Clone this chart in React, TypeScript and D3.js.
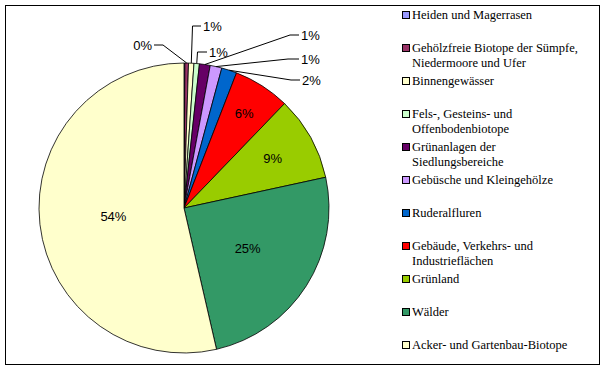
import React, { useEffect, useRef } from "react";
import { arc, pie, select, PieArcDatum } from "d3";

// Flächenanteile in Prozent, im Uhrzeigersinn ab 12 Uhr
const categories = [
  "Heiden und Magerrasen",
  "Gehölzfreie Biotope der Sümpfe,\nNiedermoore und Ufer",
  "Binnengewässer",
  "Fels-, Gesteins- und\nOffenbodenbiotope",
  "Grünanlagen der\nSiedlungsbereiche",
  "Gebüsche und Kleingehölze",
  "Ruderalfluren",
  "Gebäude, Verkehrs- und\nIndustrieflächen",
  "Grünland",
  "Wälder",
  "Acker- und Gartenbau-Biotope",
];
const values = [0.1, 0.4, 0.6, 0.6, 1.2, 1.3, 1.7, 6.3, 9.4, 24.8, 53.6];
const colors = [
  "#9999FF",
  "#993366",
  "#FFFFCC",
  "#CCFFCC",
  "#660066",
  "#CC99FF",
  "#0066CC",
  "#FF0000",
  "#99CC00",
  "#339966",
  "#FFFFCC",
];

// Layout der Beschriftungen (keine Daten)
// aussen: [Textx, Texty, Knickx, Knicky, anchor]
const outsideLabels: Record<number, [number, number, number, number, string]> = {
  1: [153, 45, 163, 45, "end"],
  2: [203, 26, 192.5, 26, "start"],
  3: [209, 52, 197.5, 52, "start"],
  4: [301, 35, 290, 35, "start"],
  5: [301, 59, 288, 59, "start"],
  6: [302, 80, 291, 80, "start"],
};
// innen: Abstand vom Mittelpunkt als Anteil des Radius
const insideLabels: Record<number, number> = { 7: 0.77, 8: 0.7, 9: 0.52, 10: 0.49 };

const W = 605;
const H = 370;
const cx = 184;
const cy = 208;
const radius = 145;

export default function App() {
  const ref = useRef<SVGSVGElement>(null);

  useEffect(() => {
    const svg = select(ref.current);
    svg.selectAll("*").remove();

    svg
      .append("rect")
      .attr("x", 5.5)
      .attr("y", 5.5)
      .attr("width", 594)
      .attr("height", 359)
      .attr("fill", "white")
      .attr("stroke", "black");

    const slices = pie<number>()
      .sort(null)
      .value((d) => d)(values);

    const arcGen = arc<PieArcDatum<number>>().innerRadius(0).outerRadius(radius);

    const g = svg.append("g").attr("transform", `translate(${cx},${cy})`);

    g.selectAll("path")
      .data(slices)
      .join("path")
      .attr("d", arcGen)
      .attr("fill", (d, i) => colors[i])
      .attr("stroke", "black")
      .attr("stroke-width", 0.8);

    const pct = (v: number) => `${Math.round(v)}%`;
    const font = "'Liberation Sans', Arial, sans-serif";

    slices.forEach((s, i) => {
      const mid = (s.startAngle + s.endAngle) / 2;
      if (insideLabels[i] !== undefined) {
        const r = radius * insideLabels[i];
        g.append("text")
          .attr("x", Math.sin(mid) * r)
          .attr("y", -Math.cos(mid) * r + 4.5)
          .attr("text-anchor", "middle")
          .attr("font-family", font)
          .attr("font-size", 13)
          .text(pct(s.data));
      }
      const o = outsideLabels[i];
      if (o) {
        const px = cx + Math.sin(mid) * radius;
        const py = cy - Math.cos(mid) * radius;
        const [tx, ty, kx, ky, anchor] = o;
        const ex = anchor === "end" ? tx + 1 : tx - 2;
        svg
          .append("polyline")
          .attr("points", `${px},${py} ${kx},${ky} ${ex},${ky}`)
          .attr("fill", "none")
          .attr("stroke", "black")
          .attr("stroke-width", 1);
        svg
          .append("text")
          .attr("x", anchor === "end" ? tx - 1 : tx)
          .attr("y", ty + 4.5)
          .attr("text-anchor", anchor)
          .attr("font-family", font)
          .attr("font-size", 13)
          .text(pct(s.data));
      }
    });

    // Legende
    const legend = svg.append("g");
    categories.forEach((name, i) => {
      const y = 15 + 33 * i;
      legend
        .append("rect")
        .attr("x", 402.5)
        .attr("y", y - 3.5)
        .attr("width", 7)
        .attr("height", 7)
        .attr("fill", colors[i])
        .attr("stroke", "black");
      name.split("\n").forEach((line, j) => {
        legend
          .append("text")
          .attr("x", 412)
          .attr("y", y + 4 + j * 15)
          .attr("font-family", "'Liberation Serif', 'Times New Roman', serif")
          .attr("font-size", 12.5)
          .text(line);
      });
    });
  }, []);

  return (
    <div style={{ position: "absolute", left: 0, top: 0, padding: 0 }}>
      <svg ref={ref} width={W} height={H} style={{ display: "block", background: "white" }}></svg>
    </div>
  );
}
